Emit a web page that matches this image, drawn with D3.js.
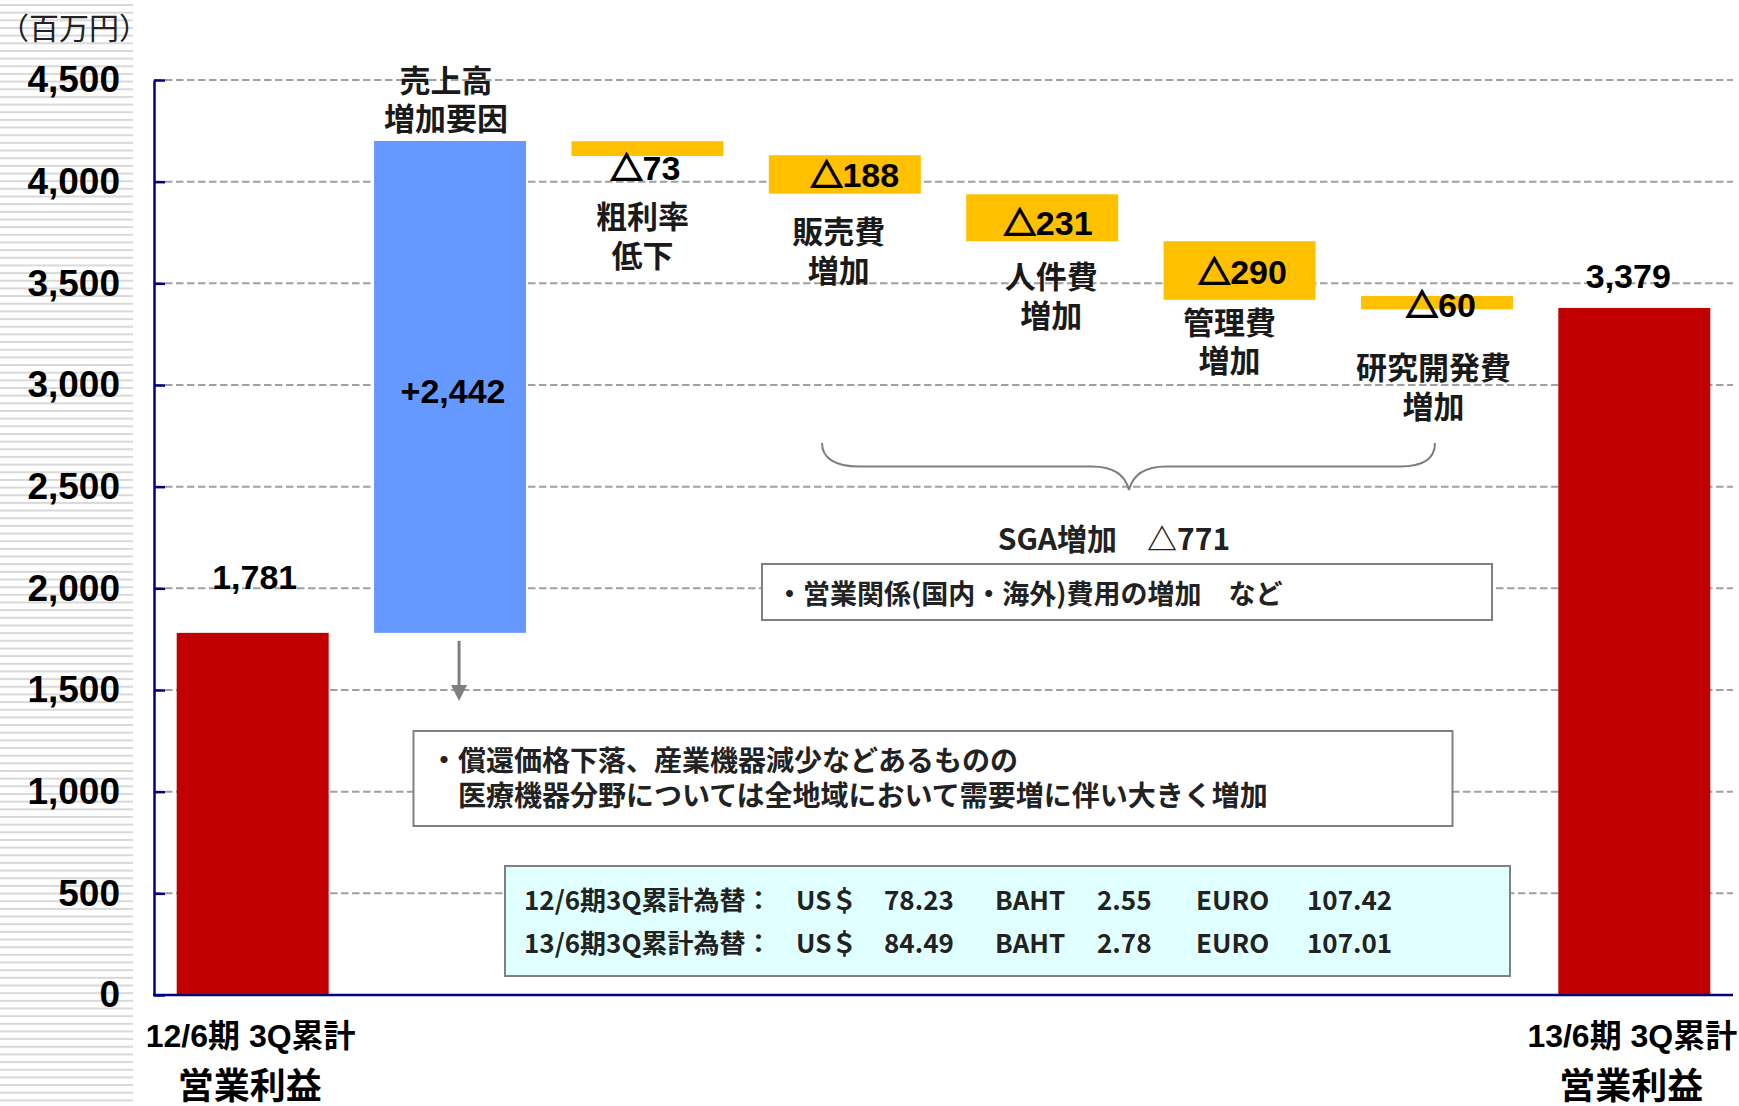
<!DOCTYPE html>
<html><head><meta charset="utf-8">
<script src="https://cdn.jsdelivr.net/npm/d3@7"></script>
<style>body{margin:0;background:#fff}svg{display:block}</style>
</head><body><svg id="c" width="1739" height="1106"></svg>
<script>
// ---------------- data ----------------
const categories = ["12/6期 3Q累計","売上高増加要因","粗利率低下","販売費増加","人件費増加","管理費増加","研究開発費増加","13/6期 3Q累計"];
const barKind   = ["total","increase","decrease","decrease","decrease","decrease","decrease","total"];
const barLow    = [0, 1781, 4126, 3941, 3707, 3419, 3372, 0];
const barHigh   = [1781, 4200, 4199, 4130, 3938, 3707, 3438, 3379];
const valueLabels = ["1,781","+2,442","73","188","231","290","60","3,379"];
const deltaMark = [false,false,true,true,true,true,true,false];
const stepNames = [null,["売上高","増加要因"],["粗利率","低下"],["販売費","増加"],["人件費","増加"],["管理費","増加"],["研究開発費","増加"],null];
const bottomLabels = [["12/6期 3Q累計","営業利益"],null,null,null,null,null,null,["13/6期 3Q累計","営業利益"]];
const yTicks = [0,500,1000,1500,2000,2500,3000,3500,4000,4500];
const unitLabel = "（百万円）";
const sgaLabel = "SGA増加　△771";
const sgaNote = "・営業関係(国内・海外)費用の増加　など";
const salesNote = ["・償還価格下落、産業機器減少などあるものの","医療機器分野については全地域において需要増に伴い大きく増加"];
const fxRows = [
  ["12/6期3Q累計為替：","US＄","78.23","BAHT","2.55","EURO","107.42"],
  ["13/6期3Q累計為替：","US＄","84.49","BAHT","2.78","EURO","107.01"]
];

// ---------------- layout / style ----------------
const W = 1739, H = 1106;
const JP = "'Noto Sans CJK JP','Noto Sans CJK SC',sans-serif";
const LAT = "'Liberation Sans',Arial,'Noto Sans CJK JP',sans-serif";
const colors = {total:"#C00000", increase:"#6699FF", decrease:"#FFC000"};
const NAVY = "#000080";
const valueLayout = [ // dx from band centre, baseline offset from bar top
  [2,-44],[3,262],[-2,39],[10,32],[6,41],[3,43],[4,21],[-6,-20]
];
const nameLayout = [null,[-4,80.5],[-5,217],[-6,232],[9,277],[-10,322.5],[-3.5,368]];
const nameLineGap = 38.5;
const fxCols = [524,796,884,995,1097,1196,1307];

const svg = d3.select("#c");
svg.append("rect").attr("width",W).attr("height",H).attr("fill","#fff");

// left stripes
svg.append("g").selectAll("rect").data(d3.range(4, H, 7.66)).join("rect")
  .attr("x",0).attr("width",133).attr("y",d=>d).attr("height",2).attr("fill","#d9d9d9");

const x = d3.scaleBand().domain(categories).range([154,1733]).paddingInner(0.23).paddingOuter(0.115);
const y = d3.scaleLinear().domain([0,4500]).range([995,80]);
const cx = i => x(categories[i]) + x.bandwidth()/2;

// gridlines
svg.append("g").selectAll("line").data(yTicks.filter(d=>d>0)).join("line")
  .attr("x1",154).attr("x2",1733).attr("y1",d=>y(d)).attr("y2",d=>y(d))
  .attr("stroke","#a0a0a0").attr("stroke-width",2).attr("stroke-dasharray","7.5,3.5");

// bars
svg.append("g").selectAll("rect").data(categories).join("rect")
  .attr("x",d=>x(d)).attr("width",x.bandwidth())
  .attr("y",(d,i)=>y(barHigh[i])).attr("height",(d,i)=>y(barLow[i])-y(barHigh[i]))
  .attr("fill",(d,i)=>colors[barKind[i]]);

// y axis
const ax = svg.append("g").attr("transform","translate(154,0)")
  .style("color",NAVY)
  .call(d3.axisLeft(y).tickValues(yTicks).tickSizeInner(-11).tickSizeOuter(0).tickPadding(34).tickFormat(d3.format(",")));
ax.select(".domain").attr("stroke-width",2.5);
ax.selectAll(".tick line").attr("stroke-width",2.5);
ax.selectAll("text").attr("fill","#000").style("font-family",LAT).style("font-size","37px").style("font-weight","bold");
// x baseline
svg.append("line").attr("x1",153).attr("x2",1733).attr("y1",y(0)).attr("y2",y(0))
  .attr("stroke",NAVY).attr("stroke-width",2.5);

// unit label
svg.append("text").attr("x",-1).attr("y",26).attr("dominant-baseline","central")
  .style("font-family",JP).style("font-size","30px").attr("fill","#222").text(unitLabel);

// value labels
categories.forEach((c,i)=>{
  const [dx,dy] = valueLayout[i];
  const t = svg.append("text").attr("x",cx(i)+dx).attr("y",y(barHigh[i])+dy)
    .attr("text-anchor","middle").attr("fill","#000");
  if (deltaMark[i]) {
    t.append("tspan").style("font-family",JP).style("font-size","32px").style("font-weight","bold")
      .attr("stroke","#000").attr("stroke-width",1.8).text("△");
  }
  t.append("tspan").style("font-family",LAT).style("font-size","34px").style("font-weight","bold").text(valueLabels[i]);
});

// step names (two lines in one text)
stepNames.forEach((lines,i)=>{
  if(!lines) return;
  const [dx,y0] = nameLayout[i];
  const t = svg.append("text").attr("text-anchor","middle")
    .style("font-family",JP).style("font-size","31px").style("font-weight","bold").attr("fill","#1a1a1a");
  lines.forEach((s,k)=>{
    t.append("tspan").attr("x",cx(i)+dx).attr("y",y0+k*nameLineGap+11).text(s);
  });
});

// bottom labels
bottomLabels.forEach((lines,i)=>{
  if(!lines) return;
  svg.append("text").attr("x",cx(i)-2).attr("y",1047).attr("text-anchor","middle")
    .style("font-family",LAT).style("font-size","32px").style("font-weight","bold").attr("fill","#000").text(lines[0]);
  svg.append("text").attr("x",cx(i)-3).attr("y",1099).attr("text-anchor","middle")
    .style("font-family",JP).style("font-size","36px").style("font-weight","bold").attr("fill","#000").text(lines[1]);
});

// arrow under sales bar
const ax1 = cx(1)+9, ayTop = y(barLow[1])+8;
svg.append("line").attr("x1",ax1).attr("x2",ax1).attr("y1",ayTop).attr("y2",686)
  .attr("stroke","#7f7f7f").attr("stroke-width",3);
svg.append("path").attr("d",`M${ax1-8},685 L${ax1+8},685 L${ax1},701 Z`).attr("fill","#7f7f7f");

// brace for SGA
svg.append("path")
  .attr("d","M822,443 C822,458 835,466.5 859,466.5 L1092,466.5 C1112,466.5 1125,474 1129,490 C1133,474 1146,466.5 1166,466.5 L1400,466.5 C1424,466.5 1435,458 1435,443")
  .attr("fill","none").attr("stroke","#7f7f7f").attr("stroke-width",2);

svg.append("text").attr("x",1114).attr("y",537).attr("text-anchor","middle").attr("dominant-baseline","central")
  .style("font-family",JP).style("font-size","30px").style("font-weight","bold").attr("fill","#222").text(sgaLabel);

// SGA note box
svg.append("rect").attr("x",762).attr("y",564).attr("width",730).attr("height",56)
  .attr("fill","#fff").attr("stroke","#808080").attr("stroke-width",2);
svg.append("text").attr("x",776).attr("y",592).attr("dominant-baseline","central")
  .style("font-family",JP).style("font-size","27px").style("font-weight","bold").attr("fill","#222").text(sgaNote);

// sales note box
svg.append("rect").attr("x",413.5).attr("y",731).attr("width",1039).attr("height",95)
  .attr("fill","#fff").attr("stroke","#808080").attr("stroke-width",2);
const sn = svg.append("text").style("font-family",JP).style("font-size","28px").style("font-weight","bold").attr("fill","#222");
salesNote.forEach((s,k)=>{
  sn.append("tspan").attr("x",k===0?430:458).attr("y",k===0?771:805.5).text(s);
});

// FX box
svg.append("rect").attr("x",505).attr("y",866).attr("width",1005).attr("height",110)
  .attr("fill","#E0FFFF").attr("stroke","#808080").attr("stroke-width",2);
const fx = svg.append("text").style("font-family",JP).style("font-size","26px").style("font-weight","bold").attr("fill","#222");
fxRows.forEach((row,r)=>{
  row.forEach((s,k)=> fx.append("tspan").attr("x",fxCols[k]).attr("y",r===0?910:953).text(s));
});
</script></body></html>
